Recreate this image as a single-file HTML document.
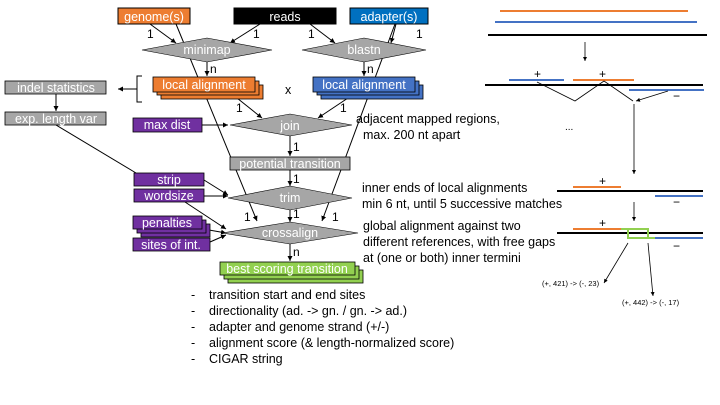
<!DOCTYPE html>
<html><head><meta charset="utf-8"><style>
html,body{margin:0;padding:0;background:#fff}
svg{display:block;font-family:"Liberation Sans",sans-serif}
.w{fill:#fff;font-size:12.5px;text-anchor:middle}
.t{fill:#000;font-size:12.5px}
.n{fill:#000;font-size:12px}
</style></head><body>
<svg width="720" height="405" viewBox="0 0 720 405" xmlns="http://www.w3.org/2000/svg">
<defs><marker id="a" markerWidth="6" markerHeight="6" refX="5" refY="3" orient="auto"><path d="M0,0.5 L5,3 L0,5.5z" fill="#000"/></marker></defs>
<g stroke="#000" stroke-width="1" fill="none">
<line x1="176" y1="24" x2="257" y2="221" marker-end="url(#a)"/>
<line x1="395" y1="24" x2="322" y2="221" marker-end="url(#a)"/>
<line x1="150" y1="24" x2="176" y2="43" marker-end="url(#a)"/>
<line x1="260" y1="24" x2="230" y2="43" marker-end="url(#a)"/>
<line x1="310" y1="24" x2="335" y2="43" marker-end="url(#a)"/>
<line x1="396" y1="24" x2="391" y2="43" marker-end="url(#a)"/>
<line x1="207" y1="62" x2="207" y2="76" marker-end="url(#a)"/>
<line x1="364" y1="62" x2="364" y2="76" marker-end="url(#a)"/>
<line x1="237" y1="98" x2="262" y2="118" marker-end="url(#a)"/>
<line x1="348" y1="98" x2="318" y2="118" marker-end="url(#a)"/>
<line x1="202" y1="125" x2="228" y2="125" marker-end="url(#a)"/>
<line x1="290" y1="136" x2="290" y2="156" marker-end="url(#a)"/>
<line x1="290" y1="170" x2="290" y2="186" marker-end="url(#a)"/>
<line x1="290" y1="210" x2="290" y2="222" marker-end="url(#a)"/>
<line x1="290" y1="244" x2="290" y2="261" marker-end="url(#a)"/>
<line x1="204" y1="180" x2="228" y2="195" marker-end="url(#a)"/>
<line x1="204" y1="196" x2="228" y2="196" marker-end="url(#a)"/>
<line x1="185" y1="202" x2="226" y2="229" marker-end="url(#a)"/>
<line x1="209" y1="230" x2="226" y2="233" marker-end="url(#a)"/>
<line x1="210" y1="242" x2="226" y2="235" marker-end="url(#a)"/>
<line x1="56" y1="125" x2="136" y2="173"/>
<path d="M142,76 H137 V102 H142"/>
<line x1="137" y1="89" x2="118" y2="89" marker-end="url(#a)"/>
<line x1="56" y1="94" x2="56" y2="111" marker-end="url(#a)"/>
</g>
<rect x="118" y="8" width="72" height="16" fill="#ED7D31" stroke="#000"/>
<text class="w" x="154" y="21" font-size="13.5">genome(s)</text>
<rect x="234" y="8" width="102" height="16" fill="#000" stroke="#000"/>
<text class="w" x="285" y="21" font-size="13.5">reads</text>
<rect x="350" y="8" width="78" height="16" fill="#0070C0" stroke="#000"/>
<text class="w" x="389" y="21" font-size="13.5">adapter(s)</text>
<g fill="#A6A6A6" stroke="#000" stroke-width="0.6">
<polygon points="142,50 207,38 272,50 207,62"/>
<polygon points="302,50 364,38 426,50 364,62"/>
<polygon points="230,125 290,114 352,125 290,136"/>
<polygon points="228,198 290,186 352,198 290,210"/>
<polygon points="222,233 290,222 358,233 290,244"/>
</g>
<text class="w" x="207" y="54">minimap</text>
<text class="w" x="364" y="54">blastn</text>
<text class="w" x="290" y="130">join</text>
<text class="w" x="290" y="202">trim</text>
<text class="w" x="290" y="237">crossalign</text>
<g stroke="#000" stroke-width="0.8">
<rect x="161" y="85" width="102" height="14" fill="#ED7D31"/>
<rect x="157" y="81" width="102" height="14" fill="#ED7D31"/>
<rect x="153" y="77" width="102" height="15" fill="#ED7D31"/>
<rect x="321" y="85" width="102" height="14" fill="#4472C4"/>
<rect x="317" y="81" width="102" height="14" fill="#4472C4"/>
<rect x="313" y="77" width="102" height="15" fill="#4472C4"/>
<rect x="5" y="81" width="101" height="13" fill="#A6A6A6"/>
<rect x="5" y="112" width="101" height="13" fill="#A6A6A6"/>
<rect x="133" y="118" width="69" height="14" fill="#7030A0"/>
<rect x="230" y="157" width="120" height="13" fill="#A6A6A6"/>
<rect x="134" y="173" width="70" height="13" fill="#7030A0"/>
<rect x="134" y="189" width="70" height="13" fill="#7030A0"/>
<rect x="141" y="224" width="69" height="13" fill="#7030A0"/>
<rect x="137" y="220" width="69" height="13" fill="#7030A0"/>
<rect x="133" y="216" width="69" height="13" fill="#7030A0"/>
<rect x="133" y="238" width="77" height="13" fill="#7030A0"/>
<rect x="228" y="270" width="135" height="13" fill="#92D050"/>
<rect x="224" y="266" width="135" height="13" fill="#92D050"/>
<rect x="220" y="262" width="135" height="13" fill="#92D050"/>
</g>
<text class="w" x="204" y="89" font-size="13.5">local alignment</text>
<text class="w" x="364" y="89" font-size="13.5">local alignment</text>
<text class="w" x="56" y="92">indel statistics</text>
<text class="w" x="56" y="123">exp. length var</text>
<text class="w" x="167" y="129">max dist</text>
<text class="w" x="290" y="168">potential transition</text>
<text class="w" x="169" y="184">strip</text>
<text class="w" x="169" y="200">wordsize</text>
<text class="w" x="167" y="227">penalties</text>
<text class="w" x="171" y="249">sites of int.</text>
<text class="w" x="287" y="273">best scoring transition</text>
<text class="t" x="285" y="94">x</text>
<g class="n">
<text x="147" y="38">1</text><text x="253" y="38">1</text>
<text x="308" y="38">1</text><text x="416" y="38">1</text>
<text x="210" y="73">n</text><text x="367" y="73">n</text>
<text x="236" y="112">1</text><text x="340" y="112">1</text>
<text x="293" y="151">1</text><text x="293" y="183">1</text>
<text x="293" y="218">1</text><text x="244" y="221">1</text><text x="332" y="221">1</text>
<text x="293" y="256">n</text>
</g>
<g class="t">
<text x="356" y="123">adjacent mapped regions,</text>
<text x="363" y="139">max. 200 nt apart</text>
<text x="362" y="192">inner ends of local alignments</text>
<text x="362" y="208">min 6 nt, until 5 successive matches</text>
<text x="363" y="230">global alignment against two</text>
<text x="363" y="246">different references, with free gaps</text>
<text x="363" y="262">at (one or both) inner termini</text>
</g>
<g class="t">
<text x="191" y="299">-</text><text x="209" y="299">transition start and end sites</text>
<text x="191" y="315">-</text><text x="209" y="315">directionality (ad. -&gt; gn. / gn. -&gt; ad.)</text>
<text x="191" y="331">-</text><text x="209" y="331">adapter and genome strand (+/-)</text>
<text x="191" y="347">-</text><text x="209" y="347">alignment score (&amp; length-normalized score)</text>
<text x="191" y="363">-</text><text x="209" y="363">CIGAR string</text>
</g>
<g stroke-width="2" fill="none">
<line x1="500" y1="11" x2="688" y2="11" stroke="#ED7D31"/>
<line x1="495" y1="22" x2="697" y2="22" stroke="#4472C4"/>
<line x1="488" y1="35" x2="707" y2="35" stroke="#000"/>
<line x1="509" y1="80" x2="564" y2="80" stroke="#4472C4"/>
<line x1="573" y1="80" x2="634" y2="80" stroke="#ED7D31"/>
<line x1="485" y1="85" x2="703" y2="85" stroke="#000"/>
<line x1="629" y1="90" x2="704" y2="90" stroke="#4472C4"/>
<line x1="573" y1="187" x2="621" y2="187" stroke="#ED7D31"/>
<line x1="557" y1="191" x2="703" y2="191" stroke="#000"/>
<line x1="655" y1="196" x2="703" y2="196" stroke="#4472C4"/>
<line x1="573" y1="229" x2="621" y2="229" stroke="#ED7D31"/>
<line x1="557" y1="233" x2="703" y2="233" stroke="#000"/>
<line x1="655" y1="238" x2="703" y2="238" stroke="#4472C4"/>
<path d="M621,229 H648 V238 H655 M628,229 V238 H648" stroke="#92D050"/>
</g>
<g stroke="#000" stroke-width="0.8" fill="none">
<line x1="585" y1="42" x2="585" y2="61" marker-end="url(#a)"/>
<polyline points="537,82 575,101 604,81 633,101"/>
<line x1="668" y1="91" x2="636" y2="101" marker-end="url(#a)"/>
<line x1="634" y1="104" x2="634" y2="174" marker-end="url(#a)"/>
<line x1="634" y1="202" x2="634" y2="221" marker-end="url(#a)"/>
<line x1="628" y1="243" x2="604" y2="283" marker-end="url(#a)"/>
<line x1="648" y1="243" x2="653" y2="296" marker-end="url(#a)"/>
</g>
<g font-size="12" fill="#000">
<text x="534" y="78">+</text><text x="599" y="78">+</text>
<text x="673" y="100">−</text>
<text x="565" y="130" font-size="10">...</text>
<text x="599" y="185">+</text><text x="673" y="206">−</text>
<text x="599" y="227">+</text><text x="673" y="250">−</text>
</g>
<g font-size="7.5" fill="#000">
<text x="542" y="286">(+, 421) -&gt; (-, 23)</text>
<text x="622" y="305">(+, 442) -&gt; (-, 17)</text>
</g>
</svg>
</body></html>
